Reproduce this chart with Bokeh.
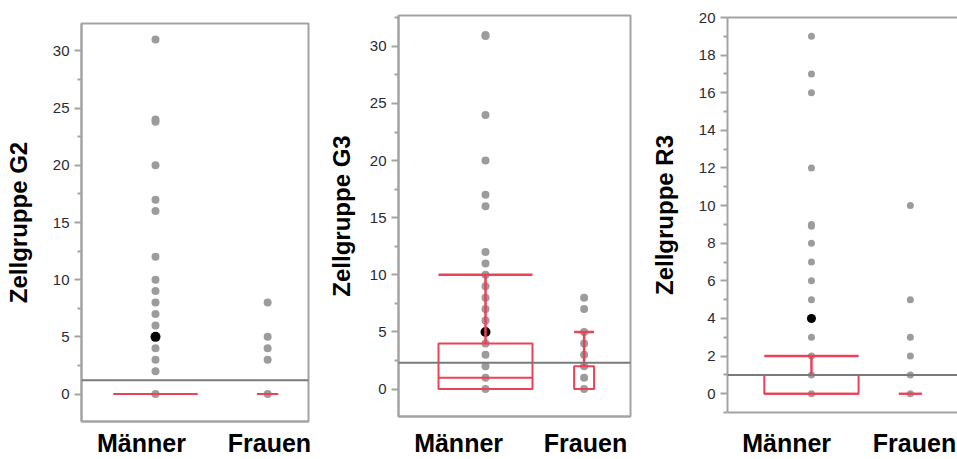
from bokeh.plotting import figure
from bokeh.layouts import row, column
from bokeh.models import Range1d, FixedTicker, Span, LinearAxis
from bokeh.embed import file_html
from bokeh.resources import INLINE

# ---------------- data ----------------
groups = ["Männer", "Frauen"]
panel_titles = ["Zellgruppe G2", "Zellgruppe G3", "Zellgruppe R3"]

g2_maenner = [31, 24, 23.8, 20, 17, 16, 12, 10, 9, 8, 7, 6, 5, 4, 3, 2, 0]
g2_frauen = [8, 5, 4, 3, 0]
g2_peak = [5, None]
g2_mean_line = 1.2
g2_q1 = [0, 0]
g2_median = [0, 0]
g2_q3 = [0, 0]
g2_upper = [0, 0]

g3_maenner = [31, 30.9, 24, 20, 17, 16, 12, 11, 10, 9, 8, 7, 6, 5, 4, 3, 2, 1, 0]
g3_frauen = [8, 7, 5, 4, 3, 2, 1, 0]
g3_peak = [5, None]
g3_mean_line = 2.3
g3_q1 = [0, 0]
g3_median = [1, 0]
g3_q3 = [4, 2]
g3_upper = [10, 5]

r3_maenner = [19, 17, 16, 12, 9, 8.9, 8, 7, 6, 5, 4, 3, 2, 1, 0]
r3_frauen = [10, 5, 3, 2, 1, 0]
r3_peak = [4, None]
r3_mean_line = 1.0
r3_q1 = [0, 0]
r3_median = [0, 0]
r3_q3 = [1, 0]
r3_upper = [2, 0]

g_ticks = [0, 5, 10, 15, 20, 25, 30]
g_minor = [-2.5, 2.5, 7.5, 12.5, 17.5, 22.5, 27.5, 32.5]
r_ticks = [0, 2, 4, 6, 8, 10, 12, 14, 16, 18, 20]
r_minor = [-1, 1, 3, 5, 7, 9, 11, 13, 15, 17, 19]

# ---------------- styling / layout ----------------
RED = "#ec4257"
DOT = "#9c9c9c"
FRAME = "#a3a3a3"
MEANLINE = "#7a7a7a"


def make_panel(title, vals, peaks, mean_line, q1, med, q3, upper,
               ticks, minor, yr, centers, widths, label_pos,
               width, bl, br, bt, bb, label_standoff, cat_standoff, dot_size,
               right_frame=True):
    p = figure(width=width, height=459, output_backend="svg",
               toolbar_location=None, x_range=Range1d(0, 1),
               y_range=Range1d(*yr), min_border_left=bl, min_border_right=br,
               min_border_top=bt, min_border_bottom=bb)
    p.grid.visible = False
    p.background_fill_color = "white"
    p.border_fill_color = "white"
    if right_frame:
        p.outline_line_color = FRAME
        p.outline_line_width = 2
        p.outline_line_alpha = 1
    else:
        p.outline_line_color = None

    ya = p.yaxis[0]
    ya.ticker = FixedTicker(ticks=ticks, minor_ticks=minor)
    ya.axis_line_color = FRAME
    ya.axis_line_width = 2
    ya.major_tick_line_color = FRAME
    ya.minor_tick_line_color = FRAME
    ya.major_tick_line_width = 2
    ya.minor_tick_line_width = 2
    ya.major_tick_out = 7
    ya.major_tick_in = 0
    ya.minor_tick_out = 4
    ya.minor_tick_in = 0
    ya.major_label_text_font = "Liberation Sans"
    ya.major_label_text_font_size = "15px"
    ya.major_label_text_color = "#2a2a36"
    ya.major_label_standoff = 5
    ya.axis_label = title
    ya.axis_label_text_font = "Liberation Sans"
    ya.axis_label_text_font_style = "bold"
    ya.axis_label_text_font_size = "24px"
    ya.axis_label_text_color = "black"
    ya.axis_label_standoff = label_standoff

    xa = p.xaxis[0]
    xa.ticker = FixedTicker(ticks=label_pos)
    xa.major_label_overrides = {c: g for c, g in zip(label_pos, groups)}
    xa.axis_line_color = FRAME
    xa.axis_line_width = 2
    xa.major_tick_line_color = None
    xa.minor_tick_line_color = None
    xa.major_tick_out = 0
    xa.major_tick_in = 0
    xa.major_label_text_font = "Liberation Sans"
    xa.major_label_text_font_style = "bold"
    xa.major_label_text_font_size = "25px"
    xa.major_label_text_color = "black"
    xa.major_label_standoff = cat_standoff

    if not right_frame:
        top = LinearAxis(ticker=FixedTicker(ticks=[]), axis_line_color=FRAME,
                         axis_line_width=2, major_label_text_font_size="0px",
                         major_tick_line_color=None, minor_tick_line_color=None)
        p.add_layout(top, "above")

    for c, v in zip(centers, vals):
        p.scatter([c] * len(v), v, size=dot_size, color=DOT, line_color=None)
    for c, pk in zip(centers, peaks):
        if pk is not None:
            p.scatter([c], [pk], size=dot_size + 2, color="black", line_color=None)

    for c, w, a, m, b, u in zip(centers, widths, q1, med, q3, upper):
        l, r = c - w / 2, c + w / 2
        p.quad(left=[l], right=[r], bottom=[a], top=[b], fill_color=None,
               line_color=RED, line_width=2)
        p.segment([l], [m], [r], [m], line_color=RED, line_width=2)
        if u > b:
            p.segment([c], [b], [c], [u], line_color=RED, line_width=2.5)
            p.segment([l], [u], [r], [u], line_color=RED, line_width=2.5)

    p.add_layout(Span(location=mean_line, dimension="width",
                      line_color=MEANLINE, line_width=2))
    return p


p1 = make_panel(panel_titles[0], [g2_maenner, g2_frauen], g2_peak, g2_mean_line,
                g2_q1, g2_median, g2_q3, g2_upper, g_ticks, g_minor,
                (-2.4, 32.4), [0.326, 0.82], [0.37, 0.093], [0.264, 0.828],
                320, 81, 12, 23, 35, 18, 7, 8)
p2 = make_panel(panel_titles[1], [g3_maenner, g3_frauen], g3_peak, g3_mean_line,
                g3_q1, g3_median, g3_q3, g3_upper, g_ticks, g_minor,
                (-2.4, 32.7), [0.375, 0.80], [0.405, 0.086], [0.259, 0.806],
                320, 78, 10, 15, 40, 12, 12, 8)
p3 = make_panel(panel_titles[2], [r3_maenner, r3_frauen], r3_peak, r3_mean_line,
                r3_q1, r3_median, r3_q3, r3_upper, r_ticks, r_minor,
                (-1.0, 20.0), [0.365, 0.795], [0.41, 0.10], [0.257, 0.813],
                317, 87, 0, 17, 44, 18, 16, 7, right_frame=False)

layout = row(column(p1), column(p2), column(p3))
open("out.html", "w").write(file_html(layout, INLINE))
